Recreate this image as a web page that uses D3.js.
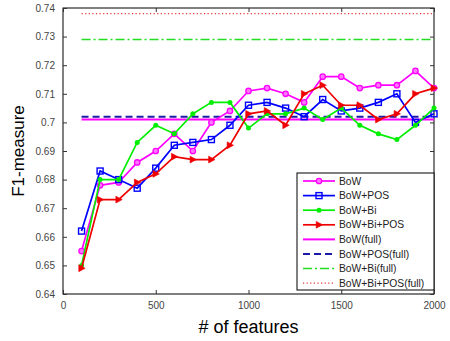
<!DOCTYPE html>
<html>
<head>
<meta charset="utf-8">
<script src="https://cdn.jsdelivr.net/npm/d3@7"></script>
<style>
  body { margin: 0; background: #fff; }
  svg { font-family: "Liberation Sans", Arial, sans-serif; }
</style>
</head>
<body>
<svg width="450" height="341"></svg>
<script>
// x positions (number of features)
var features = [100,200,300,400,500,600,700,800,900,1000,1100,1200,1300,1400,1500,1600,1700,1800,1900,2000];

var bow      = [0.655,0.678,0.679,0.686,0.690,0.696,0.690,0.700,0.704,0.711,0.712,0.710,0.707,0.716,0.716,0.712,0.713,0.713,0.718,0.712];
var bowPos   = [0.662,0.683,0.680,0.677,0.684,0.692,0.693,0.694,0.699,0.706,0.707,0.705,0.702,0.708,0.704,0.705,0.707,0.710,0.700,0.703];
var bowBi    = [0.650,0.680,0.680,0.693,0.699,0.696,0.703,0.707,0.707,0.698,0.703,0.703,0.705,0.701,0.705,0.699,0.696,0.694,0.699,0.705];
var bowBiPos = [0.649,0.673,0.673,0.679,0.682,0.688,0.687,0.687,0.692,0.703,0.704,0.699,0.710,0.713,0.706,0.706,0.701,0.703,0.710,0.712];

// full-feature baselines
var fullNames  = ["BoW(full)","BoW+POS(full)","BoW+Bi(full)","BoW+Bi+POS(full)"];
var fullValues = [0.701, 0.702, 0.729, 0.738];

var xTicks = [0,500,1000,1500,2000];
var yTicks = [0.64,0.65,0.66,0.67,0.68,0.69,0.70,0.71,0.72,0.73,0.74];

var svg = d3.select("svg");

var pLeft = 63, pRight = 434, pTop = 8, pBottom = 294;

var x = d3.scaleLinear().domain([0,2000]).range([pLeft,pRight]);
var y = d3.scaleLinear().domain([0.64,0.74]).range([pBottom,pTop]);

var series = [
  {name:"BoW",        values:bow,      color:"#ff00ff", marker:"circle"},
  {name:"BoW+POS",    values:bowPos,   color:"#0000ff", marker:"square"},
  {name:"BoW+Bi",     values:bowBi,    color:"#00ee00", marker:"dot"},
  {name:"BoW+Bi+POS", values:bowBiPos, color:"#ee0000", marker:"triangle"}
];
var fullStyles = [
  {color:"#ff00ff", dash:null,         width:2},
  {color:"#1a1aa6", dash:"7,4",        width:2},
  {color:"#22dd22", dash:"9,3,2,3",    width:1.5},
  {color:"#ee3333", dash:"1.2,2.4",    width:1.2}
];

// axes box
svg.append("rect")
  .attr("x", pLeft).attr("y", pTop)
  .attr("width", pRight-pLeft).attr("height", pBottom-pTop)
  .attr("fill", "none").attr("stroke", "#000").attr("stroke-width", 1);

var gx = svg.append("g").attr("transform", "translate(0," + pBottom + ")")
  .call(d3.axisBottom(x).tickValues(xTicks).tickSize(-4).tickPadding(8).tickFormat(d3.format("d")));
var gxTop = svg.append("g").attr("transform", "translate(0," + pTop + ")")
  .call(d3.axisTop(x).tickValues(xTicks).tickSize(-4).tickFormat(""));
var gy = svg.append("g").attr("transform", "translate(" + pLeft + ",0)")
  .call(d3.axisLeft(y).tickValues(yTicks).tickSize(-4).tickPadding(8).tickFormat(function(d){ return d3.format(".2f")(d).replace(/0$/, "").replace(/\.$/, ""); }));
var gyRight = svg.append("g").attr("transform", "translate(" + pRight + ",0)")
  .call(d3.axisRight(y).tickValues(yTicks).tickSize(-4).tickFormat(""));

[gx, gxTop, gy, gyRight].forEach(function(g){
  g.select(".domain").remove();
  g.selectAll("line").attr("stroke", "#333");
  g.selectAll("text").attr("fill", "#444").style("font-size", "10px");
});

// full lines
fullValues.forEach(function(v, i){
  svg.append("line")
    .attr("x1", x(features[0])).attr("x2", x(features[features.length-1]))
    .attr("y1", y(v)).attr("y2", y(v))
    .attr("stroke", fullStyles[i].color)
    .attr("stroke-width", fullStyles[i].width)
    .attr("stroke-dasharray", fullStyles[i].dash);
});

var line = d3.line()
  .x(function(d, i){ return x(features[i]); })
  .y(function(d){ return y(d); });

function drawMarker(g, kind, color, cx, cy){
  if (kind == "circle") {
    g.append("circle").attr("cx", cx).attr("cy", cy).attr("r", 2.7)
      .attr("fill", "#ff77ff").attr("stroke", color).attr("stroke-width", 1.3);
  } else if (kind == "square") {
    g.append("rect").attr("x", cx-3).attr("y", cy-3).attr("width", 6).attr("height", 6)
      .attr("fill", "none").attr("stroke", color).attr("stroke-width", 1.4);
  } else if (kind == "dot") {
    g.append("circle").attr("cx", cx).attr("cy", cy).attr("r", 2.5).attr("fill", color);
  } else {
    g.append("path").attr("d", "M" + (cx-2.8) + "," + (cy-3.4) + "L" + (cx+3.6) + "," + cy + "L" + (cx-2.8) + "," + (cy+3.4) + "Z")
      .attr("fill", color).attr("stroke", color).attr("stroke-width", 0.6);
  }
}

series.forEach(function(s){
  var g = svg.append("g");
  g.append("path").datum(s.values)
    .attr("d", line)
    .attr("fill", "none").attr("stroke", s.color).attr("stroke-width", 1.7);
  s.values.forEach(function(v, i){
    drawMarker(g, s.marker, s.color, x(features[i]), y(v));
  });
});

// legend
var lg = svg.append("g").attr("transform", "translate(297,173)");
lg.append("rect").attr("width", 137).attr("height", 117)
  .attr("fill", "#fff").attr("stroke", "#000").attr("stroke-width", 1);
var entries = series.map(function(s){ return {name:s.name, color:s.color, marker:s.marker}; })
  .concat(fullNames.map(function(n, i){ return {name:n, color:fullStyles[i].color, dash:fullStyles[i].dash, width:fullStyles[i].width}; }));
entries.forEach(function(e, i){
  var yy = 8 + i * 14.6;
  lg.append("line").attr("x1", 6).attr("x2", 38).attr("y1", yy).attr("y2", yy)
    .attr("stroke", e.color).attr("stroke-width", e.width || 1.7)
    .attr("stroke-dasharray", e.dash || null);
  if (e.marker) drawMarker(lg, e.marker, e.color, 22, yy);
  lg.append("text").attr("x", 42).attr("y", yy).attr("dy", "0.35em")
    .style("font-size", "10.3px").attr("fill", "#222").text(e.name);
});

// axis labels
svg.append("text").attr("x", (pLeft+pRight)/2).attr("y", 333)
  .attr("text-anchor", "middle").style("font-size", "18px").text("# of features");
svg.append("text").attr("transform", "translate(24," + ((pTop+pBottom)/2) + ") rotate(-90)")
  .attr("text-anchor", "middle").style("font-size", "17px").text("F1-measure");
</script>
</body>
</html>
